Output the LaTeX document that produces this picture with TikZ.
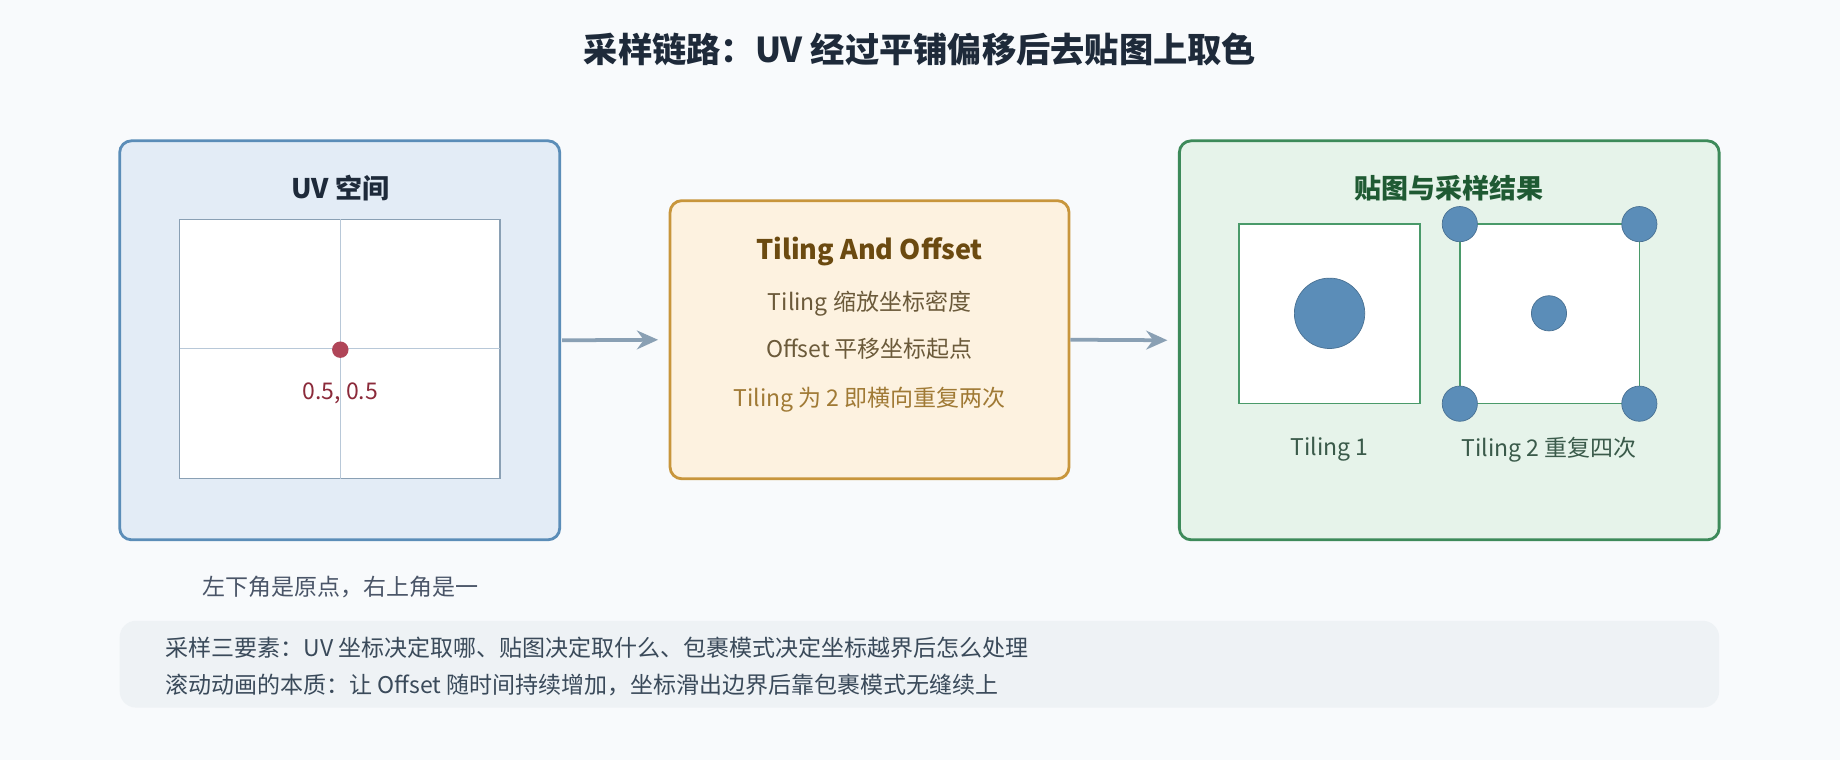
\documentclass[tikz,border=0pt]{standalone}
\usepackage{fontspec}
\setmainfont{Noto Sans CJK SC}
\usetikzlibrary{arrows.meta,positioning}
\definecolor{bgc}{HTML}{F8FAFC}
\definecolor{ink}{HTML}{1E2A3A}
\definecolor{uvfill}{HTML}{E3ECF6}
\definecolor{uvline}{HTML}{5B8DB8}
\definecolor{gridc}{HTML}{B8C8D8}
\definecolor{framec}{HTML}{8AA0B4}
\definecolor{dotc}{HTML}{B04558}
\definecolor{dottxt}{HTML}{8B2A3A}
\definecolor{tofill}{HTML}{FDF2E0}
\definecolor{toline}{HTML}{C8963C}
\definecolor{totitle}{HTML}{6B4A10}
\definecolor{totxt}{HTML}{6B5A3A}
\definecolor{tonote}{HTML}{A07A35}
\definecolor{rsfill}{HTML}{E6F3EA}
\definecolor{rsline}{HTML}{3D8A5A}
\definecolor{rstitle}{HTML}{1F5A33}
\definecolor{rssq}{HTML}{4A9A6A}
\definecolor{rstxt}{HTML}{3A5A4A}
\definecolor{notec}{HTML}{4A5568}
\definecolor{barfill}{HTML}{EEF2F5}
\definecolor{bartxt}{HTML}{3A4A5A}
\begin{document}
\begin{tikzpicture}[x=0.5pt,y=-0.5pt,
  panel/.style={draw, line width=1.2pt, rounded corners=5pt},
  flow/.style={draw=framec, line width=1.6pt, shorten >=4.5pt, -{Stealth[length=9pt,width=8pt]}},
  head/.style={font=\fontsize{11.5}{13}\selectfont\bfseries},
  txt/.style={font=\fontsize{9.8}{11}\selectfont},
  spot/.style={fill=uvline, draw=uvline!80!black, line width=0.3pt}]
  \fill[bgc] (0,0) rectangle (1568,648);
  \useasboundingbox (0,0) rectangle (1568,648);
  \node[text=ink, font=\fontsize{14.6}{16}\selectfont\bfseries] (title) at (784,42) {采样链路：UV 经过平铺偏移后去贴图上取色};
  % UV 空间
  \draw[panel, fill=uvfill, draw=uvline] (102,120) rectangle (477,460);
  \node[head, text=ink] (uvhead) at (290,160) {UV 空间};
  \draw[fill=white, draw=framec, line width=0.6pt] (153,187) rectangle (426,408);
  \draw[gridc, line width=0.6pt] (290,187) -- (290,408) (153,297) -- (426,297);
  \fill[dotc] (290,298) circle (7);
  \node[txt, text=dottxt] (center) at (290,335) {0.5, 0.5};
  \node[txt, text=notec] (origin) at (290,500) {左下角是原点，右上角是一};
  % Tiling And Offset
  \node[panel, fill=tofill, draw=toline, minimum width=170pt, minimum height=118.5pt] (tile) at (741,289.5) {};
  \node[head, text=totitle] (tilehead) at (741,214) {Tiling And Offset};
  \node[txt, text=totxt] (tl1) at (741,259) {Tiling 缩放坐标密度};
  \node[txt, text=totxt] (tl2) at (741,297) {Offset 平移坐标起点};
  \node[txt, text=tonote] (tl3) at (741,341) {Tiling 为 2 即横向重复两次};
  % 贴图与采样结果
  \node[panel, fill=rsfill, draw=rsline, minimum width=230pt, minimum height=170pt] (res) at (1235,290) {};
  \node[head, text=rstitle] (reshead) at (1235,160) {贴图与采样结果};
  \draw[fill=white, draw=rssq, line width=0.6pt] (1056,191) rectangle (1210,344);
  \fill[spot] (1133,267) circle (30);
  \draw[fill=white, draw=rssq, line width=0.6pt] (1244,191) rectangle (1397,344);
  \foreach \px/\py in {1244/191,1397/191,1244/344,1397/344,1320/267}
    \fill[spot] (\px,\py) circle (15);
  \node[txt, text=rstxt] (t1) at (1133,383) {Tiling 1};
  \node[txt, text=rstxt] (t2) at (1320,383) {Tiling 2 重复四次};
  % connectors
  \coordinate (uvout) at (479,290);
  \draw[flow] (uvout) -- (tile.west);
  \draw[flow] (tile.east) -- (res.west);
  % 底部说明
  \fill[barfill, rounded corners=7pt] (102,529) rectangle (1465,603);
  \node[txt, text=bartxt, anchor=west] (n1) at (134,552) {采样三要素：UV 坐标决定取哪、贴图决定取什么、包裹模式决定坐标越界后怎么处理};
  \node[txt, text=bartxt, anchor=west] (n2) at (134,584) {滚动动画的本质：让 Offset 随时间持续增加，坐标滑出边界后靠包裹模式无缝续上};
\end{tikzpicture}
\end{document}
